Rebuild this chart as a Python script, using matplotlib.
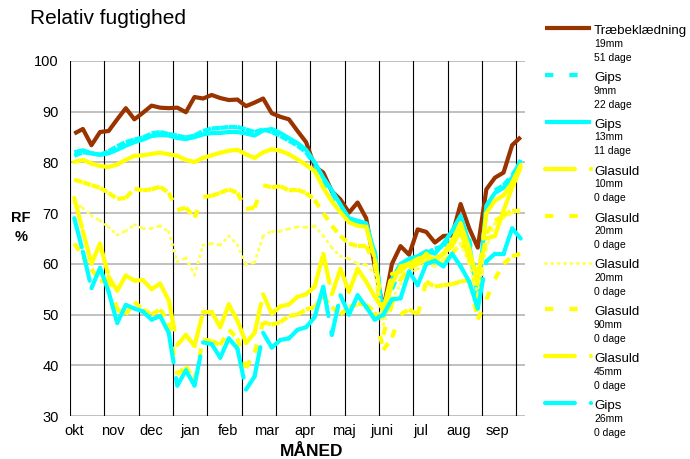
import numpy as np
import matplotlib
matplotlib.use('Agg')
import matplotlib.pyplot as plt
from matplotlib.collections import LineCollection
from matplotlib.lines import Line2D

plt.rcParams['font.family'] = ['Liberation Sans', 'DejaVu Sans']
plt.rcParams['lines.scale_dashes'] = False

months = ['okt', 'nov', 'dec', 'jan', 'feb', 'mar', 'apr', 'maj', 'juni', 'jul', 'aug', 'sep']
yticks = [30, 40, 50, 60, 70, 80, 90, 100]

traebeklaedning_19 = [85.7, 86.6, 83.4, 86.0, 86.2, 88.5, 90.7, 88.5, 89.8, 91.2, 90.8, 90.7, 90.8, 89.9, 92.9,
                      92.6, 93.3, 92.7, 92.3, 92.4, 91.1, 91.8, 92.6, 89.7, 89.0, 88.5, 86.2, 84.0, 79.2, 78.0,
                      74.3, 72.7, 70.1, 72.1, 69.0, 59.5, 51.0, 60.0, 63.5, 61.8, 66.8, 66.3, 64.2, 65.5, 65.6,
                      71.8, 67.0, 63.2, 74.7, 77.0, 78.0, 83.4, 85.0]
gips_9 = [81.3, 82.0, 81.8, 81.5, 82.2, 83.2, 84.0, 84.5, 84.9, 85.7, 86.0, 85.6, 85.3, 84.9, 85.3,
          86.2, 86.7, 86.8, 87.0, 87.0, 86.5, 86.0, 86.5, 86.0, 85.2, 84.3, 83.3, 82.0, 79.5, 76.5,
          74.0, 71.2, 68.5, 68.0, 67.5, 62.5, 50.5, 55.0, 59.0, 60.5, 61.0, 62.0, 63.0, 63.5, 66.0,
          68.5, 65.0, 55.0, 71.0, 74.5, 75.5, 77.5, 80.0]
gips_13 = [82.0, 82.4, 81.8, 81.5, 81.8, 82.5, 83.3, 84.0, 84.5, 85.2, 85.4, 85.3, 84.8, 84.6, 85.0,
           85.5, 85.8, 85.8, 86.0, 86.0, 85.7, 85.3, 86.3, 86.6, 85.8, 84.8, 83.8, 82.5, 80.0, 77.0,
           74.5, 71.7, 69.0, 68.5, 68.0, 62.0, 49.5, 57.0, 60.0, 61.0, 61.5, 62.5, 62.0, 64.0, 66.5,
           69.5, 64.0, 53.0, 71.5, 74.0, 75.0, 77.0, 80.5]
glasuld_10 = [80.1, 80.5, 79.8, 79.3, 79.1, 79.6, 80.5, 81.3, 81.4, 81.7, 81.9, 81.6, 81.3, 80.5, 80.1,
              80.9, 81.4, 81.9, 82.3, 82.5, 81.6, 80.9, 82.0, 82.6, 82.3, 81.6, 80.6, 79.5, 78.3, 75.0,
              72.3, 70.2, 68.2, 67.5, 67.3, 61.0, 50.0, 56.0, 59.5, 60.0, 61.0, 61.5, 61.0, 62.0, 64.5,
              68.0, 63.0, 56.0, 70.0, 72.5, 73.5, 76.0, 79.5]
glasuld_20 = [76.6, 76.1, 75.5, 75.0, 74.0, 72.8, 73.0, 74.8, 74.5, 74.7, 75.2, 74.0, 70.6, 71.1, 69.1,
              73.2, 73.4, 74.0, 74.7, 74.0, 70.8, 71.1, 75.5, 75.1, 75.3, 74.5, 74.6, 74.0, 72.6, 70.0,
              67.5, 65.5, 64.0, 63.5, 63.5, 60.0, 46.0, 52.0, 57.0, 59.0, 60.0, 61.0, 60.0, 60.5, 62.0,
              64.0, 62.0, 53.0, 66.0, 68.5, 69.5, 70.5, 70.5]
glasuld_20_dot = [72.0, 71.0, 69.5, 68.5, 67.3, 65.7, 66.5, 67.7, 67.0, 67.0, 67.5, 66.3, 60.4, 61.2, 57.8,
                  63.7, 64.0, 63.7, 65.5, 63.7, 59.8, 60.3, 65.5, 66.5, 66.5, 66.9, 67.3, 67.2, 67.5, 65.5,
                  63.2, 61.5, 61.0, 60.0, 59.8, 58.0, 48.0, 53.0, 56.0, 58.0, 59.0, 60.0, 59.5, 61.0, 62.0,
                  64.0, 60.0, 54.0, 63.0, 68.0, 69.0, 70.0, 71.0]
glasuld_90 = [64.0, 61.5, 59.0, 56.5, 57.0, 51.0, 50.0, 52.5, 51.0, 50.0, 51.0, 48.4, 38.2, 39.8, 37.0,
              45.1, 44.8, 44.0, 47.0, 45.3, 39.5, 42.5, 48.5, 48.0, 48.5, 49.7, 50.0, 51.0, 51.5, 53.5,
              51.5, 50.0, 51.5, 52.0, 52.0, 50.5, 43.0, 45.5, 50.0, 51.0, 50.0, 56.5, 55.5, 55.8, 56.0,
              56.5, 56.8, 49.0, 53.0, 57.0, 60.0, 61.5, 62.0]
glasuld_45 = [73.0, 66.5, 60.0, 64.0, 57.5, 54.7, 57.7, 56.7, 56.8, 55.0, 56.1, 52.8, 44.0, 46.0, 43.8,
              50.5, 50.5, 47.5, 52.0, 48.8, 44.4, 46.4, 54.0, 50.2, 51.6, 52.0, 53.5, 54.0, 55.5, 62.0,
              54.0, 59.0, 54.5, 59.0, 56.5, 53.5, 51.0, 58.0, 58.5, 60.0, 60.0, 62.0, 60.5, 62.0, 63.5,
              66.5, 61.0, 58.0, 65.0, 65.5, 70.5, 75.0, 79.0]
gips_26 = [69.0, 62.4, 55.2, 59.2, 54.5, 48.3, 51.9, 51.2, 50.6, 49.0, 49.7, 46.4, 36.0, 39.0, 36.0,
           44.5, 44.2, 41.5, 45.3, 43.3, 35.2, 37.8, 46.4, 43.5, 45.0, 45.3, 47.0, 47.5, 49.5, 55.5,
           46.0, 53.8, 50.0, 53.8, 51.5, 49.0, 50.0, 53.0, 53.2, 58.5, 55.8, 60.0, 60.6, 59.5, 62.0,
           59.5, 56.5, 51.2, 60.5, 62.0, 62.0, 67.0, 65.0]

names = ['Træbeklædning', 'Gips', 'Gips', 'Glasuld', 'Glasuld', 'Glasuld', 'Glasuld', 'Glasuld', 'Gips']
thick = ['19mm', '9mm', '13mm', '10mm', '20mm', '20mm', '90mm', '45mm', '26mm']
days = ['51 dage', '22 dage', '11 dage', '0 dage', '0 dage', '0 dage', '0 dage', '0 dage', '0 dage']
series = [traebeklaedning_19, gips_9, gips_13, glasuld_10, glasuld_20, glasuld_20_dot,
          glasuld_90, glasuld_45, gips_26]

BROWN, CYAN, YELLOW = '#993300', '#00FFFF', '#FFFF00'
SOLID, DASH, LDASH, DOT = None, (6.0, 11.5), (21.5, 11.5), (0.6, 4.0)
styles = [
    (BROWN, 3.0, SOLID, 'round'),
    (CYAN, 3.0, DASH, 'butt'),
    (CYAN, 3.0, SOLID, 'round'),
    (YELLOW, 3.0, LDASH, 'round'),
    (YELLOW, 3.0, DASH, 'butt'),
    ('#FFFF55', 2.2, DOT, 'round'),
    (YELLOW, 3.0, DASH, 'butt'),
    (YELLOW, 3.0, LDASH, 'round'),
    (CYAN, 3.0, LDASH, 'round'),
]

W, H = 690, 459
fig = plt.figure(figsize=(W / 100, H / 100), dpi=100)
ax = fig.add_axes([70 / W, 1 - 416 / H, 455 / W, 355 / H])
n = len(traebeklaedning_19)
x = np.arange(n)
ax.set_xlim(-0.5, n - 0.5)
ax.set_ylim(30, 100)

for sp in ax.spines.values():
    sp.set_visible(False)
ax.set_yticks(yticks)
ax.set_yticklabels([str(v) for v in yticks], fontsize=10.5)
ax.set_xticks(np.arange(len(months)) * 4.48)
ax.set_xticklabels(months, fontsize=10.5)
ax.tick_params(length=0, pad=6)
ax.tick_params(axis='y', pad=8)
for v in yticks:
    ax.axhline(v, color='#c0c0c0', lw=1.4, zorder=0)
for k in range(14):
    ax.axvline(-0.5 + 4 * k, color='black', lw=0.8, zorder=0)


def draw(ax, xs, ys, color, lw, dashes, cap, z):
    pts = np.column_stack([xs, ys])
    if dashes is None:
        ax.plot(xs, ys, color=color, lw=lw, solid_joinstyle='round', solid_capstyle='butt', zorder=z)
    else:
        segs = np.stack([pts[:-1], pts[1:]], axis=1)
        lc = LineCollection(segs, colors=color, linewidths=lw, linestyles=[(0, dashes)],
                            capstyle=cap, zorder=z)
        ax.add_collection(lc)


for k, (ys, st) in enumerate(zip(series, styles)):
    draw(ax, x, ys, st[0], st[1], st[2], st[3], 2 + k)

fig.text(30 / W, 1 - 19 / H, 'Relativ fugtighed', fontsize=15, va='center', ha='left')
fig.text(21 / W, 1 - 218 / H, 'RF', fontsize=10.5, fontweight='bold', ha='center', va='center')
fig.text(21 / W, 1 - 237 / H, '%', fontsize=10.5, fontweight='bold', ha='center', va='center')
fig.text(312 / W, 1 - 451 / H, 'MÅNED', fontsize=12.5, fontweight='bold', ha='center', va='center')

# legend
for k, st in enumerate(styles):
    ly = 28 + k * 46.9
    color, lw, dashes, cap = st
    ls = '-' if dashes is None else (0, dashes)
    ln = Line2D([545 / W, 591 / W], [1 - ly / H, 1 - ly / H], transform=fig.transFigure,
                color=color, lw=lw, linestyle=ls, dash_capstyle=cap, solid_capstyle='butt')
    fig.add_artist(ln)
    fig.text(594 / W, 1 - (ly + 3) / H, names[k], fontsize=9.6, va='center', ha='left')
    fig.text(594 / W, 1 - (ly + 15.6) / H, thick[k], fontsize=7.5, va='center', ha='left')
    fig.text(594 / W, 1 - (ly + 29.6) / H, days[k], fontsize=7.5, va='center', ha='left')

fig.savefig('out.png', dpi=100)
